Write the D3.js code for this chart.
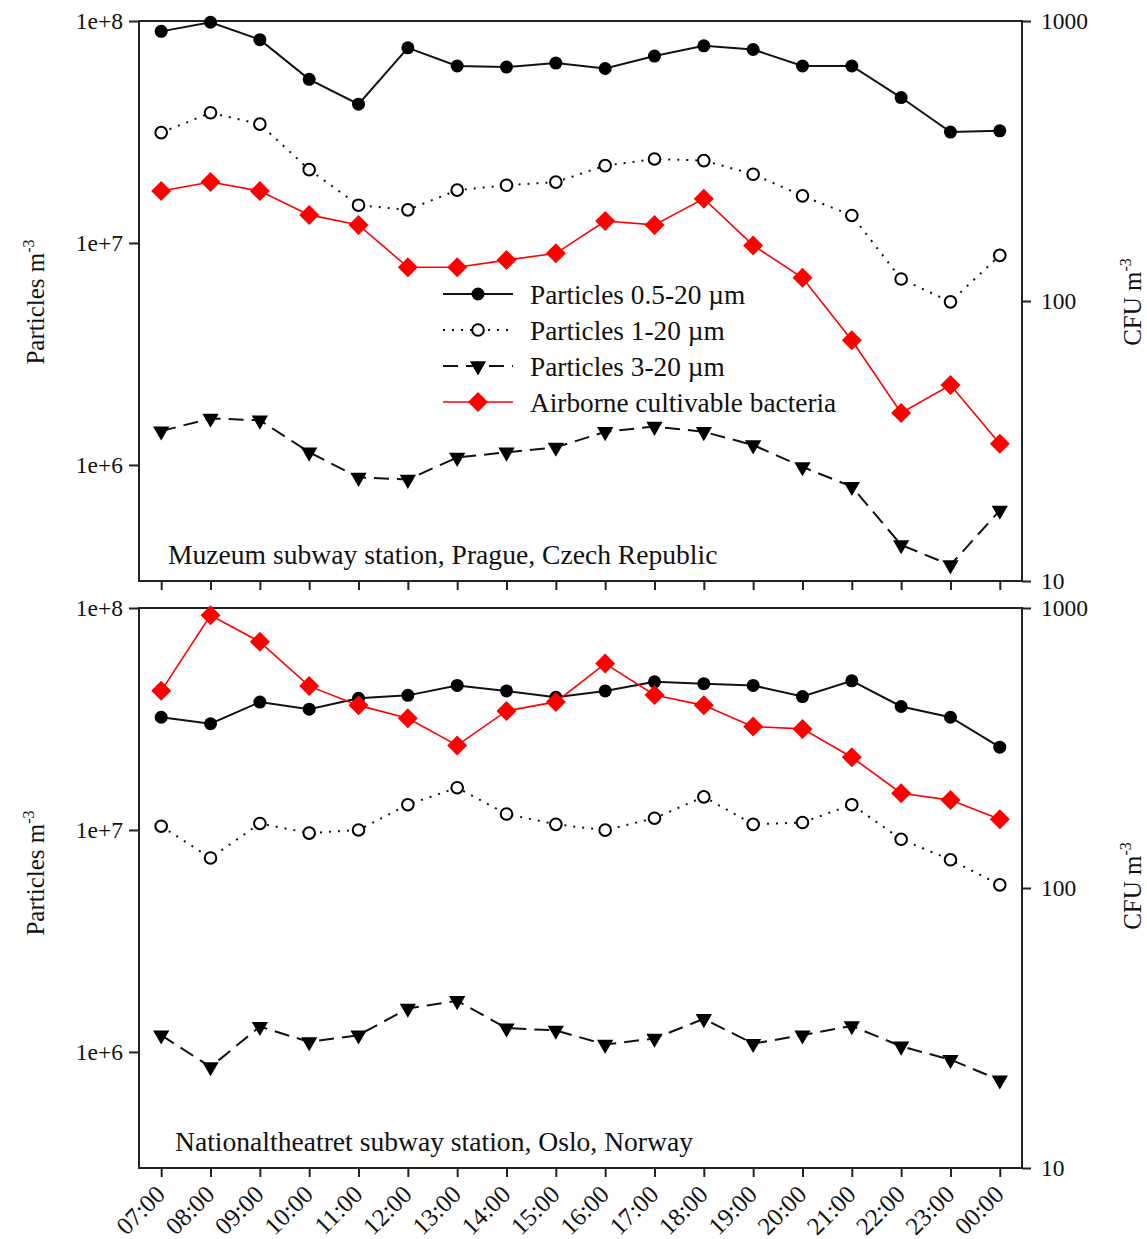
<!DOCTYPE html>
<html>
<head>
<meta charset="utf-8">
<script src="https://cdnjs.cloudflare.com/ajax/libs/d3/7.8.5/d3.min.js"></script>
<style>
  body { margin: 0; background: #fff; }
  svg { display: block; font-family: 'Liberation Serif', 'Times New Roman', serif; }
  .frame { fill: none; stroke: #222; stroke-width: 2; }
  .tick line { stroke: #222; stroke-width: 2; }
  .tick text { font-size: 23.5px; fill: #111; font-family: 'Liberation Serif', 'Times New Roman', serif; }
  .label { font-size: 25px; fill: #111; }
</style>
</head>
<body>
<svg id="chart"></svg>
<script>
// hours of the day
var hours = ['07:00', '08:00', '09:00', '10:00', '11:00', '12:00', '13:00', '14:00', '15:00',
  '16:00', '17:00', '18:00', '19:00', '20:00', '21:00', '22:00', '23:00', '00:00']

// Muzeum, Prague (particles m-3, bacteria CFU m-3)
var pragueFine = [8.98e7, 9.87e7, 8.24e7, 5.46e7, 4.22e7, 7.57e7, 6.27e7, 6.2e7, 6.46e7,
  6.11e7, 6.95e7, 7.73e7, 7.44e7, 6.27e7, 6.27e7, 4.52e7, 3.16e7, 3.2e7]
var pragueMid = [3.14e7, 3.86e7, 3.43e7, 2.14e7, 1.48e7, 1.41e7, 1.73e7, 1.82e7, 1.88e7,
  2.23e7, 2.39e7, 2.35e7, 2.04e7, 1.63e7, 1.33e7, 6.88e6, 5.43e6, 8.79e6]
var pragueCoarse = [1.42e6, 1.62e6, 1.59e6, 1.14e6, 8.78e5, 8.6e5, 1.08e6, 1.14e6, 1.2e6,
  1.41e6, 1.49e6, 1.41e6, 1.23e6, 9.8e5, 7.98e5, 4.36e5, 3.54e5, 6.24e5]
var pragueBacteria = [247, 266, 247, 203, 187, 132, 132, 140, 148,
  193, 187, 232, 158, 121, 72.4, 39.8, 50.1, 30.9]

// Nationaltheatret, Oslo
var osloFine = [3.22e7, 3.01e7, 3.77e7, 3.5e7, 3.92e7, 4.04e7, 4.48e7, 4.23e7, 3.96e7,
  4.23e7, 4.65e7, 4.56e7, 4.48e7, 3.99e7, 4.7e7, 3.6e7, 3.22e7, 2.36e7]
var osloMid = [1.04e7, 7.48e6, 1.07e7, 9.68e6, 1.0e7, 1.3e7, 1.55e7, 1.18e7, 1.06e7,
  9.98e6, 1.13e7, 1.41e7, 1.06e7, 1.08e7, 1.3e7, 9.08e6, 7.34e6, 5.66e6]
var osloCoarse = [1.19e6, 8.56e5, 1.3e6, 1.11e6, 1.19e6, 1.57e6, 1.7e6, 1.28e6, 1.25e6,
  1.08e6, 1.15e6, 1.41e6, 1.09e6, 1.19e6, 1.31e6, 1.06e6, 9.23e5, 7.46e5]
var osloBacteria = [506, 942, 757, 526, 449, 404, 323, 429, 462,
  633, 489, 449, 377, 370, 293, 218, 206, 176]

var leftTicks = [1e6, 1e7, 1e8]
var rightTicks = [10, 100, 1000]

var legendNames = ['Particles 0.5-20 \u00b5m', 'Particles 1-20 \u00b5m',
  'Particles 3-20 \u00b5m', 'Airborne cultivable bacteria']

var svgWidth = 1147
var svgHeight = 1239
var left = 139, right = 1022
var panels = [
  { top: 21, bottom: 581, name: 'Muzeum subway station, Prague, Czech Republic', nameX: 168,
    series: [pragueFine, pragueMid, pragueCoarse], bacteria: pragueBacteria, legend: true, labels: false,
    titleY: 302, cfuY: 302 },
  { top: 608, bottom: 1168, name: 'Nationaltheatret subway station, Oslo, Norway', nameX: 175,
    series: [osloFine, osloMid, osloCoarse], bacteria: osloBacteria, legend: false, labels: true,
    titleY: 873, cfuY: 886 }
]

var svg = d3.select('#chart').attr('width', svgWidth).attr('height', svgHeight)

var x = d3.scalePoint().domain(hours).range([left, right]).padding(0.45)

// line / marker styles of the three particle series + bacteria
var styles = [
  { dash: null, width: 2, color: '#111', marker: 'dot' },
  { dash: '2,7', width: 2, color: '#111', marker: 'ring' },
  { dash: '15,8', width: 2, color: '#111', marker: 'tri' },
  { dash: null, width: 1.6, color: '#f00', marker: 'diamond' }
]

function drawMarker(g, type, px, py) {
  if (type === 'dot') {
    g.append('circle').attr('cx', px).attr('cy', py).attr('r', 6.5).attr('fill', '#000')
  } else if (type === 'ring') {
    g.append('circle').attr('cx', px).attr('cy', py).attr('r', 5.8)
      .attr('fill', '#fff').attr('stroke', '#000').attr('stroke-width', 2)
  } else if (type === 'tri') {
    g.append('path').attr('d', d3.symbol(d3.symbolTriangle, 115)())
      .attr('transform', 'translate(' + px + ' ' + py + ') rotate(180)').attr('fill', '#000')
  } else {
    g.append('path').attr('d', d3.symbol(d3.symbolSquare, 200)())
      .attr('transform', 'translate(' + px + ' ' + py + ') rotate(45)').attr('fill', '#f00')
  }
}

panels.forEach(function(p) {
  var yL = d3.scaleLog().domain([3e5, 1e8]).range([p.bottom, p.top])
  var yR = d3.scaleLog().domain([10, 1000]).range([p.bottom, p.top])
  var g = svg.append('g')

  // axes
  g.append('g').attr('transform', 'translate(' + left + ' 0)')
    .call(d3.axisLeft(yL).tickValues(leftTicks).tickSizeOuter(0).tickSize(10).tickPadding(6)
      .tickFormat(function(d) { return '1e+' + Math.round(Math.log10(d)) }))
  g.append('g').attr('transform', 'translate(' + right + ' 0)')
    .call(d3.axisRight(yR).tickValues(rightTicks).tickSizeOuter(0).tickSize(9).tickPadding(10)
      .tickFormat(d3.format('d')))
  var xAxis = g.append('g').attr('transform', 'translate(0 ' + p.bottom + ')')
    .call(d3.axisBottom(x).tickSizeOuter(0).tickSize(9))
  if (p.labels) {
    xAxis.selectAll('.tick text')
      .attr('text-anchor', 'end')
      .attr('dy', null).attr('y', null)
      .style('font-size', '25px')
      .attr('transform', 'translate(5 28) rotate(-45)')
  } else {
    xAxis.selectAll('.tick text').remove()
  }
  g.selectAll('.domain').remove()

  g.append('rect').attr('class', 'frame')
    .attr('x', left).attr('y', p.top).attr('width', right - left).attr('height', p.bottom - p.top)

  // axis titles
  var t1 = g.append('text').attr('class', 'label').attr('text-anchor', 'middle')
    .attr('transform', 'translate(44 ' + p.titleY + ') rotate(-90)')
  t1.append('tspan').text('Particles m')
  t1.append('tspan').attr('dy', -10).style('font-size', '16px').text('-3')
  var t2 = g.append('text').attr('class', 'label').attr('text-anchor', 'middle')
    .attr('transform', 'translate(1141 ' + p.cfuY + ') rotate(-90)')
  t2.append('tspan').text('CFU m')
  t2.append('tspan').attr('dy', -10).style('font-size', '16px').text('-3')

  // station name
  g.append('text').attr('class', 'label').attr('x', p.nameX).attr('y', p.bottom - 17)
    .style('font-size', '27.6px').text(p.name)

  // data series
  var all = p.series.map(function(s, i) { return { vals: s, y: yL, st: styles[i] } })
  all.push({ vals: p.bacteria, y: yR, st: styles[3] })
  all.forEach(function(s) {
    var line = d3.line()
      .x(function(d, i) { return x(hours[i]) })
      .y(function(d) { return s.y(d) })
    g.append('path').attr('d', line(s.vals)).attr('fill', 'none')
      .attr('stroke', s.st.color).attr('stroke-width', s.st.width)
      .attr('stroke-dasharray', s.st.dash)
    var mg = g.append('g')
    s.vals.forEach(function(v, i) { drawMarker(mg, s.st.marker, x(hours[i]), s.y(v)) })
  })

  // legend
  if (p.legend) {
    var lg = g.append('g').attr('transform', 'translate(443 294)')
    legendNames.forEach(function(name, i) {
      var row = lg.append('g').attr('transform', 'translate(0 ' + i * 36 + ')')
      row.append('line').attr('x1', 0).attr('x2', 70)
        .attr('stroke', styles[i].color).attr('stroke-width', styles[i].width)
        .attr('stroke-dasharray', styles[i].dash)
      drawMarker(row, styles[i].marker, 35, 0)
      row.append('text').attr('class', 'label').attr('x', 87).attr('dy', '0.35em')
        .style('font-size', '27.3px').text(name)
    })
  }
})
</script>
</body>
</html>
